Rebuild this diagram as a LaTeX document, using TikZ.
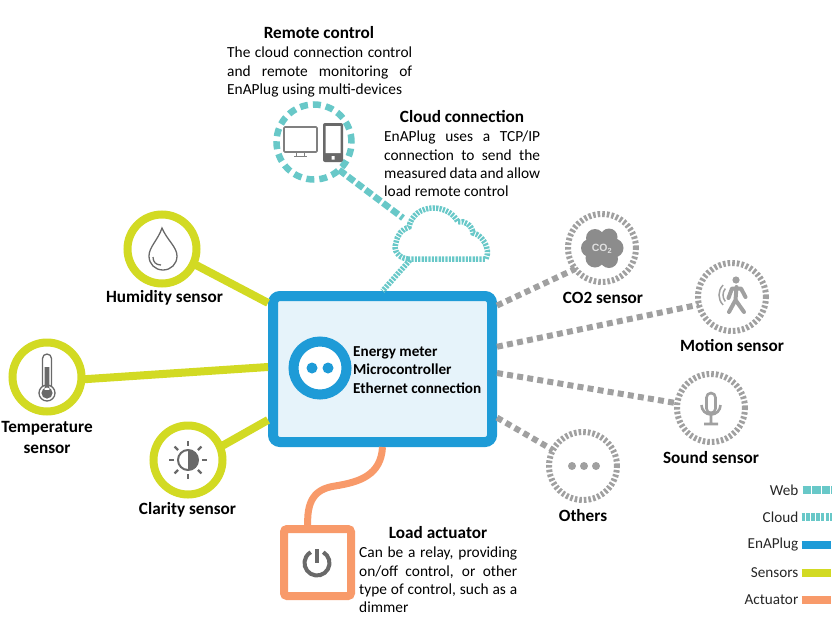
\documentclass[tikz,border=0pt]{standalone}
\usepackage{fontspec}
\setmainfont{Carlito}
\newfontfamily\arialfont{Liberation Sans}
\usepackage{tikz}
\usetikzlibrary{positioning, calc}
\definecolor{enablue}{RGB}{30,155,215}
\definecolor{enapale}{RGB}{230,243,250}
\definecolor{enalime}{RGB}{210,218,35}
\definecolor{enateal}{RGB}{104,200,200}
\definecolor{enaorange}{RGB}{248,154,106}
\definecolor{enagrey}{RGB}{160,160,160}
\definecolor{enaicon}{RGB}{105,105,105}
\begin{document}
\begin{tikzpicture}[x=1pt, y=-1pt]
    \tikzset{
      lbl/.style={font=\fontsize{17.2}{21}\selectfont\bfseries, inner sep=0pt, align=center},
      para/.style={font=\fontsize{15.4}{18.3}\selectfont, inner sep=0pt, anchor=north west, align=justify},
      lgd/.style={font=\fontsize{15.2}{16}\selectfont, inner sep=0pt, anchor=east, text=black!85},
      limering/.style={circle, draw=enalime, line width=8, minimum size=69, inner sep=0pt, outer sep=0pt},
      greyring/.style={circle, draw=enagrey, line width=6, minimum size=68, inner sep=0pt, outer sep=0pt,
                       dash pattern=on 2.6pt off 2pt},
      limelink/.style={draw=enalime, line width=8},
      greylink/.style={draw=enagrey, line width=6, dash pattern=on 6pt off 4.2pt},
      weblink/.style={draw=enateal, line width=6.5, dash pattern=on 8pt off 3pt},
      cloudlink/.style={draw=enateal, line width=5.5, dash pattern=on 2.2pt off 1.2pt},
      icon/.style={draw=enaicon, line width=1.3}
    }
    \useasboundingbox (0,0) rectangle (838,627);
    \node[draw=enablue, fill=enapale, line width=10, rounded corners=7, minimum width=219,
          minimum height=146, inner sep=0pt, outer sep=5] (core) at (382.5,369) {};
    \node[circle, draw=enablue, fill=white, line width=10, minimum size=53, inner sep=0pt] (socket) at (320,368) {};
    \fill[enablue] (312,368) circle (5.5) (328,368) circle (5.5);
    \node[font=\fontsize{15.2}{18.3}\selectfont\bfseries, inner sep=0pt, anchor=west, align=left] (coretxt)
      at (353,370) {Energy meter\\Microcontroller\\Ethernet connection};

    \node[limering] (hum) at (162,249) {};
    \node[limering] (temp) at (47,377) {};
    \node[limering] (clar) at (188,460) {};
    \node[greyring] (co2) at (602,248) {};
    \node[greyring] (motion) at (732,297) {};
    \node[greyring] (sound) at (711,408) {};
    \node[greyring] (others) at (583,466) {};
    \node[circle, draw=enateal, line width=6.5, minimum size=75, inner sep=0pt, outer sep=0pt,
          dash pattern=on 8pt off 5pt] (remote) at (314,142) {};
    \node[draw=enaorange, line width=8, rounded corners=3, minimum size=67, inner sep=0pt, outer sep=0pt] (act) at (317.5,562.5) {};

    \draw[cloudlink] (408,259) .. controls (398,258) and (393,250) .. (396,243)
      .. controls (397,235) and (402,229) .. (409,227) .. controls (411,215) and (422,208) .. (433,208)
      .. controls (445,208) and (454,214) .. (458,222) .. controls (464,220) and (472,225) .. (473,233)
      .. controls (482,235) and (491,248) .. (486,259) -- cycle;
    \coordinate (cloudtop) at (403,218);
    \coordinate (cloudfoot) at (410,260);

    \foreach \a/\b in {hum.-25/core.150, temp.-4/core.179, clar.22/core.204}
      \draw[limelink] (\a) -- (\b);
    \foreach \a/\b in {core.29/co2.218, core.11/motion.193, core.-2/sound.172, core.-23/others.152}
      \draw[greylink] (\a) -- (\b);
    \draw[weblink] (remote.-48) -- (cloudtop);
    \draw[cloudlink] (cloudfoot) -- (core.north);
    \draw[draw=enaorange, line width=7] (core.south) .. controls (381,475) and (360,482) .. (335,486)
      .. controls (315,489) and (306,500) .. (act.106);

    \foreach \nm/\txt/\x/\y in {humlbl/Humidity sensor/164.5/298, clarlbl/Clarity sensor/187.5/510,
        co2lbl/CO2 sensor/603/298, motionlbl/Motion sensor/732/346, soundlbl/Sound sensor/711/458,
        otherslbl/Others/583/516, remotelbl/Remote control/319/33, cloudlbl/Cloud connection/462/117,
        actlbl/Load actuator/438/533}
      \node[lbl] (\nm) at (\x,\y) {\txt};
    \node[lbl] (templbl) at (47,437) {Temperature\\sensor};

    \node[para, text width=185] (remotetxt) at (227,47) {The cloud connection control\linebreak and remote monitoring of\linebreak EnAPlug using multi-devices};
    \node[para, text width=156] (cloudtxt) at (384,131) {EnAPlug uses a TCP/IP\linebreak connection to send the\linebreak measured data and allow\linebreak load remote control};
    \node[para, text width=158] (acttxt) at (359,547) {Can be a relay, providing\linebreak on/off control, or other\linebreak type of control, such as a\linebreak dimmer};

    % icons
    \draw[icon] (162,228) .. controls (158,240) and (149,247) .. (149,256) .. controls (149,264) and (155,270) .. (163,270)
      .. controls (171,270) and (177,264) .. (177,256) .. controls (177,247) and (167,240) .. (162,228) -- cycle;
    \draw[icon] (153,257) .. controls (153,262) and (156,265) .. (161,265);
    \draw[icon] (42.5,390) -- (42.5,358.5) arc[start angle=180, end angle=360, radius=4.5] -- (51.5,390);
    \draw[icon, fill=white] (47,393) circle (8);
    \fill[enaicon] (44.7,367) rectangle (49.3,390) (47,393) circle (5.6);
    \draw[enaicon, line width=2] (188,460) circle (10);
    \fill[enaicon] (188,450) arc[start angle=-90, end angle=90, radius=10] -- cycle;
    \foreach \ang in {0,45,...,315}
      \draw[enaicon, line width=2.2] (188,460) ++(\ang:14) -- ++(\ang:5);
    \draw[icon, draw=black!50, line width=1.6, rounded corners=1] (284,127) rectangle (317,152);
    \draw[icon, draw=black!50] (296.5,152) -- (296.5,156) (304.5,152) -- (304.5,156) (294,156.5) -- (307,156.5);
    \fill[enaicon, rounded corners=2] (323,123) rectangle (343,162);
    \fill[white] (325.5,126) rectangle (340.5,153) (331.5,156) rectangle (334.5,159.5);
    \fill[black!45] (602,248) circle (14) (590,248) circle (9) (614,248) circle (9.5) (595,238) circle (9)
      (609,237) circle (8.5) (595,258) circle (9.5) (609,259) circle (9);
    \node[font=\fontsize{10.5}{12}\selectfont\arialfont\bfseries, text=black!12, inner sep=0pt] (co2txt) at (602,249) {CO\textsubscript{2}};
    \fill[enagrey] (736,280) circle (3.6);
    \draw[enagrey, line width=4, line join=round, line cap=round] (736.5,287) -- (735.5,300) -- (729,312) (735.5,300) -- (744,312)
      (728.5,298) -- (732,288.5) -- (741,288.5) -- (745.5,297);
    \draw[enagrey, line width=1.5] (733,295) ++(140:10) arc[start angle=140, end angle=220, radius=10]
      (733,295) ++(135:14) arc[start angle=135, end angle=225, radius=14];
    \draw[enagrey, line width=2.6, rounded corners=4.5] (706.5,393) rectangle (715.5,413);
    \draw[enagrey, line width=2.6] (701.5,405) arc[start angle=180, end angle=0, radius=9.5] (711,415) -- (711,423) (704,424) -- (718,424);
    \fill[enagrey] (572,466) circle (4) (584,466) circle (4) (596,466) circle (4);
    \draw[enaicon, line width=4] (317,563) ++(-60:12.5) arc[start angle=-60, end angle=240, radius=12.5];
    \draw[enaicon, line width=3.6] (317,549) -- (317,563);

    \foreach \nm/\txt/\y in {lgweb/Web/490, lgcloud/Cloud/517, lgena/EnAPlug/545, lgsens/Sensors/573, lgact/Actuator/600}
      \node[lgd] (\nm) at (798.5,\y) {\txt};
    \draw[draw=enateal, line width=7.5, dash pattern=on 8.4pt off 1.2pt] ([xshift=4pt]lgweb.east) -- ++(29,0);
    \draw[draw=enateal, line width=7.5, dash pattern=on 3.6pt off 1.2pt] ([xshift=3pt]lgcloud.east) -- ++(30,0);
    \draw[draw=enablue, line width=7.5] ([xshift=3pt]lgena.east) -- ++(29,0);
    \draw[draw=enalime, line width=7.5] ([xshift=3pt]lgsens.east) -- ++(29,0);
    \draw[draw=enaorange, line width=7.5] ([xshift=3pt]lgact.east) -- ++(29,0);
  \end{tikzpicture}
\end{document}
